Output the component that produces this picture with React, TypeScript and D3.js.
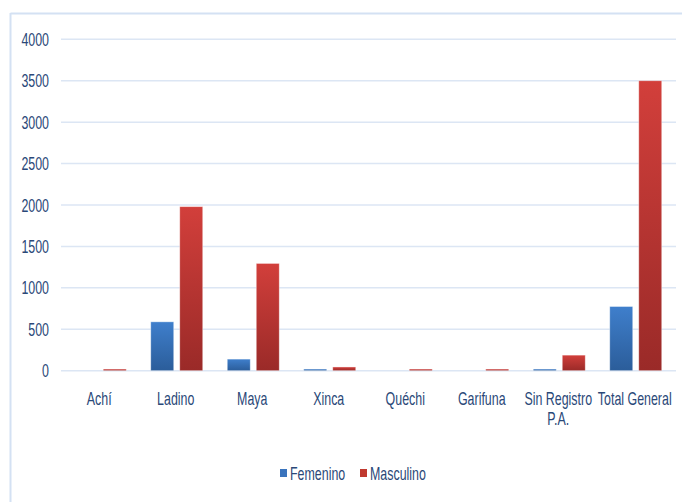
import React from "react";
import * as d3 from "d3";

const categories = ["Achí", "Ladino", "Maya", "Xinca", "Quéchi", "Garifuna", "Sin Registro P.A.", "Total General"];
const femenino = [0, 590, 140, 20, 0, 0, 20, 775];
const masculino = [20, 1980, 1295, 45, 20, 20, 188, 3500];
const yTicks = [0, 500, 1000, 1500, 2000, 2500, 3000, 3500, 4000];
const seriesNames = ["Femenino", "Masculino"];

const W = 682;
const H = 502;
const FONT = "'Liberation Sans', Arial, sans-serif";
const FS = 18;
const SX = 0.69;
const TEXT = "#2a4878";

function T({ x, y, anchor = "start", children }: { x: number; y: number; anchor?: string; children: React.ReactNode }) {
  return (
    <g transform={`translate(${x},${y}) scale(${SX},1)`}>
      <text x={0} y={0} textAnchor={anchor} fontFamily={FONT} fontSize={FS} fill={TEXT}>
        {children}
      </text>
    </g>
  );
}

export default function App() {
  const x = d3.scaleBand<string>().domain(categories).range([61, 673]);
  const y = d3.scaleLinear().domain([0, 4000]).range([370.7, 39.3]);
  const barW = 23;
  const gap = 6;
  const series = [
    { name: seriesNames[0], values: femenino, fill: "url(#gBlue)", off: -gap / 2 - barW },
    { name: seriesNames[1], values: masculino, fill: "url(#gRed)", off: gap / 2 },
  ];
  return (
    <svg width={W} height={H} style={{ position: "fixed", left: 0, top: 0 }}>
      <defs>
        <linearGradient id="gBlue" x1="0" y1="0" x2="0" y2="1">
          <stop offset="0" stopColor="#3f7fcc" />
          <stop offset="1" stopColor="#2b5d9a" />
        </linearGradient>
        <linearGradient id="gRed" x1="0" y1="0" x2="0" y2="1">
          <stop offset="0" stopColor="#d23f3b" />
          <stop offset="1" stopColor="#9a2a28" />
        </linearGradient>
      </defs>
      <rect x={0} y={0} width={W} height={H} fill="#fff" />
      <line x1={10.5} x2={W} y1={13.5} y2={13.5} stroke="#d4e1f3" strokeWidth={2} />
      <line x1={10.5} x2={10.5} y1={13} y2={H} stroke="#d4e1f3" strokeWidth={2} />
      {yTicks.map((t) => (
        <g key={t}>
          <line x1={61} x2={676} y1={y(t)} y2={y(t)} stroke="#dce6f4" strokeWidth={1.5} />
          <T x={49} y={y(t) + 6.5} anchor="end">{t}</T>
        </g>
      ))}
      {series.map((s) =>
        categories.map((c, i) => {
          const v = s.values[i];
          if (v <= 0) return null;
          const cx = (x(c) as number) + x.bandwidth() / 2 + 1;
          const top = y(v);
          return (
            <rect
              key={s.name + c}
              x={cx + s.off}
              y={top}
              width={barW}
              height={Math.max(y(0) - top, 1.5)}
              fill={s.fill}
              stroke="rgba(255,255,255,0.5)"
              strokeWidth={0.8}
            />
          );
        })
      )}
      {categories.map((c) => {
        const cx = (x(c) as number) + x.bandwidth() / 2;
        const lines = c === "Sin Registro P.A." ? ["Sin Registro", "P.A."] : [c];
        return (
          <g key={c}>
            {lines.map((l, k) => (
              <T key={k} x={cx} y={405 + k * 20} anchor="middle">{l}</T>
            ))}
          </g>
        );
      })}
      <g>
        <rect x={280} y={469} width={7} height={8} fill="#3a74bd" />
        <T x={290} y={480}>{seriesNames[0]}</T>
        <rect x={360} y={469} width={7} height={8} fill="#c0392f" />
        <T x={370} y={480}>{seriesNames[1]}</T>
      </g>
    </svg>
  );
}
